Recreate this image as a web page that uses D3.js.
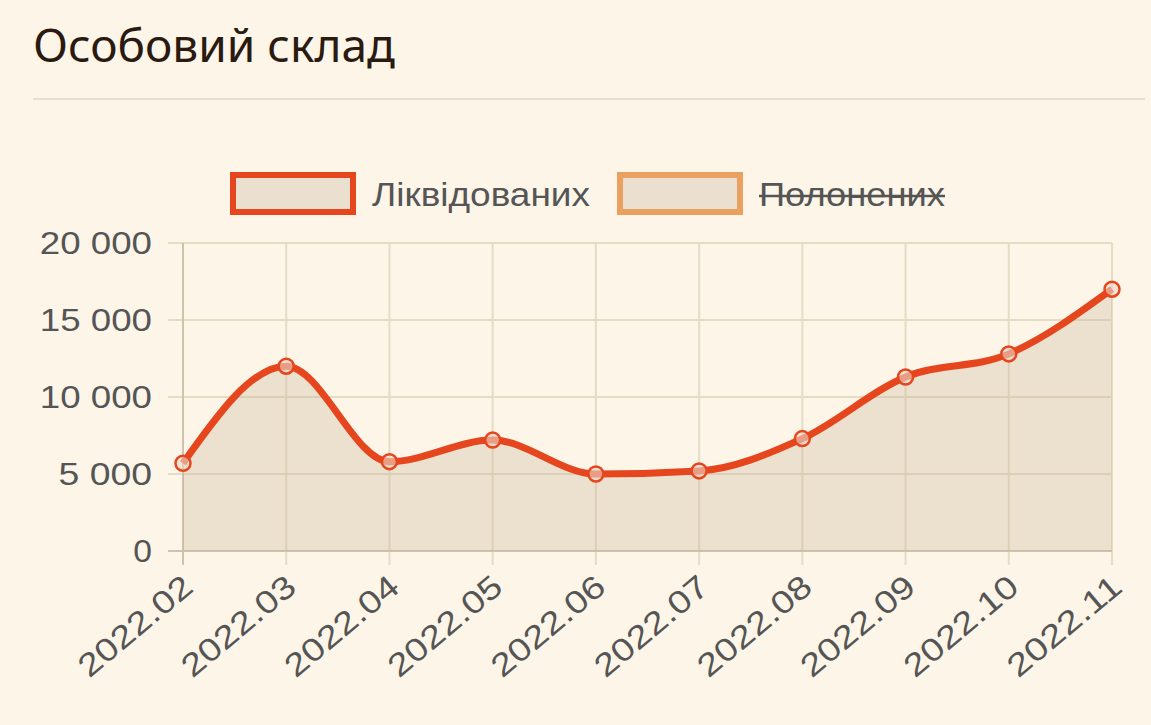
<!DOCTYPE html>
<html><head><meta charset="utf-8">
<script src="https://cdn.jsdelivr.net/npm/d3@7"></script>
<style>
body{margin:0;background:#fcf5e8;font-family:"Liberation Sans",Arial,sans-serif;}
</style></head><body>
<svg id="c" width="1151" height="725"></svg>
<script>
const months = ["2022.02","2022.03","2022.04","2022.05","2022.06","2022.07","2022.08","2022.09","2022.10","2022.11"];
const killed = [5700,12000,5800,7200,5000,5200,7300,11300,12800,17000];
const yTicks = [0,5000,10000,15000,20000];
const seriesNames = ["Ліквідованих","Полонених"];

const svg = d3.select("#c");
svg.append("text").attr("x",33).attr("y",62).attr("font-size",46).attr("fill","#2a1a10")
  .attr("font-family","Noto Sans, sans-serif").text("Особовий склад");
svg.append("line").attr("x1",33).attr("x2",1145).attr("y1",99).attr("y2",99).attr("stroke","#e8dfcf").attr("stroke-width",2);

// legend
const leg = [{x:230,color:"#e5461e",name:seriesNames[0],strike:false,w:218},{x:617,color:"#e9a060",name:seriesNames[1],strike:true,w:186}];
leg.forEach(l=>{
  svg.append("rect").attr("x",l.x+3).attr("y",175).attr("width",120).attr("height",37)
    .attr("fill","#ebe0cf").attr("stroke",l.color).attr("stroke-width",6);
  svg.append("text").attr("x",l.x+142).attr("y",206).attr("font-size",33).attr("fill","#555")
    .attr("textLength",l.w).attr("lengthAdjust","spacingAndGlyphs").text(l.name);
  if(l.strike){
    svg.append("line").attr("x1",l.x+142).attr("x2",l.x+142+l.w).attr("y1",196).attr("y2",196).attr("stroke","#555").attr("stroke-width",2.5);
  }
});

const x = d3.scalePoint().domain(months).range([183,1112]);
const y = d3.scaleLinear().domain([0,20000]).range([551,243]);

// grid
svg.append("g").selectAll("line").data(months).join("line")
  .attr("x1",d=>x(d)).attr("x2",d=>x(d)).attr("y1",243).attr("y2",565).attr("stroke","#e6dcc6").attr("stroke-width",2);
svg.append("g").selectAll("line").data(yTicks).join("line")
  .attr("x1",168).attr("x2",1112).attr("y1",d=>y(d)).attr("y2",d=>y(d)).attr("stroke","#e6dcc6").attr("stroke-width",2);
svg.append("line").attr("x1",183).attr("x2",183).attr("y1",243).attr("y2",565).attr("stroke","#cfc3ad").attr("stroke-width",2);
svg.append("line").attr("x1",168).attr("x2",1112).attr("y1",551).attr("y2",551).attr("stroke","#cfc3ad").attr("stroke-width",2);

const fmt = v => v===0 ? "0" : d3.format(",")(v).replace(",", " ");
svg.append("g").selectAll("text").data(yTicks).join("text")
  .attr("x",152).attr("y",d=>y(d)+11).attr("text-anchor","end").attr("font-size",32).attr("fill","#555")
  .attr("textLength",d=>fmt(d).length*18.7).attr("lengthAdjust","spacingAndGlyphs").text(fmt);
svg.append("g").selectAll("text").data(months).join("text")
  .attr("transform",d=>`translate(${x(d)+12},${590}) rotate(-40)`).attr("text-anchor","end")
  .attr("font-size",32).attr("fill","#555").attr("textLength",138).attr("lengthAdjust","spacingAndGlyphs").text(d=>d);

const pts = months.map((m,i)=>[x(m),y(killed[i])]);
svg.append("path").attr("d",d3.area().x(d=>d[0]).y0(551).y1(d=>d[1]).curve(d3.curveMonotoneX)(pts))
  .attr("fill","rgba(200,180,150,0.3)");
svg.append("path").attr("d",d3.line().curve(d3.curveMonotoneX)(pts))
  .attr("fill","none").attr("stroke","#e5461e").attr("stroke-width",7);
svg.append("g").selectAll("circle").data(pts).join("circle")
  .attr("cx",d=>d[0]).attr("cy",d=>d[1]).attr("r",7.5).attr("fill","rgba(235,215,200,0.6)").attr("stroke","#e5461e").attr("stroke-width",2.5);
</script></body></html>
